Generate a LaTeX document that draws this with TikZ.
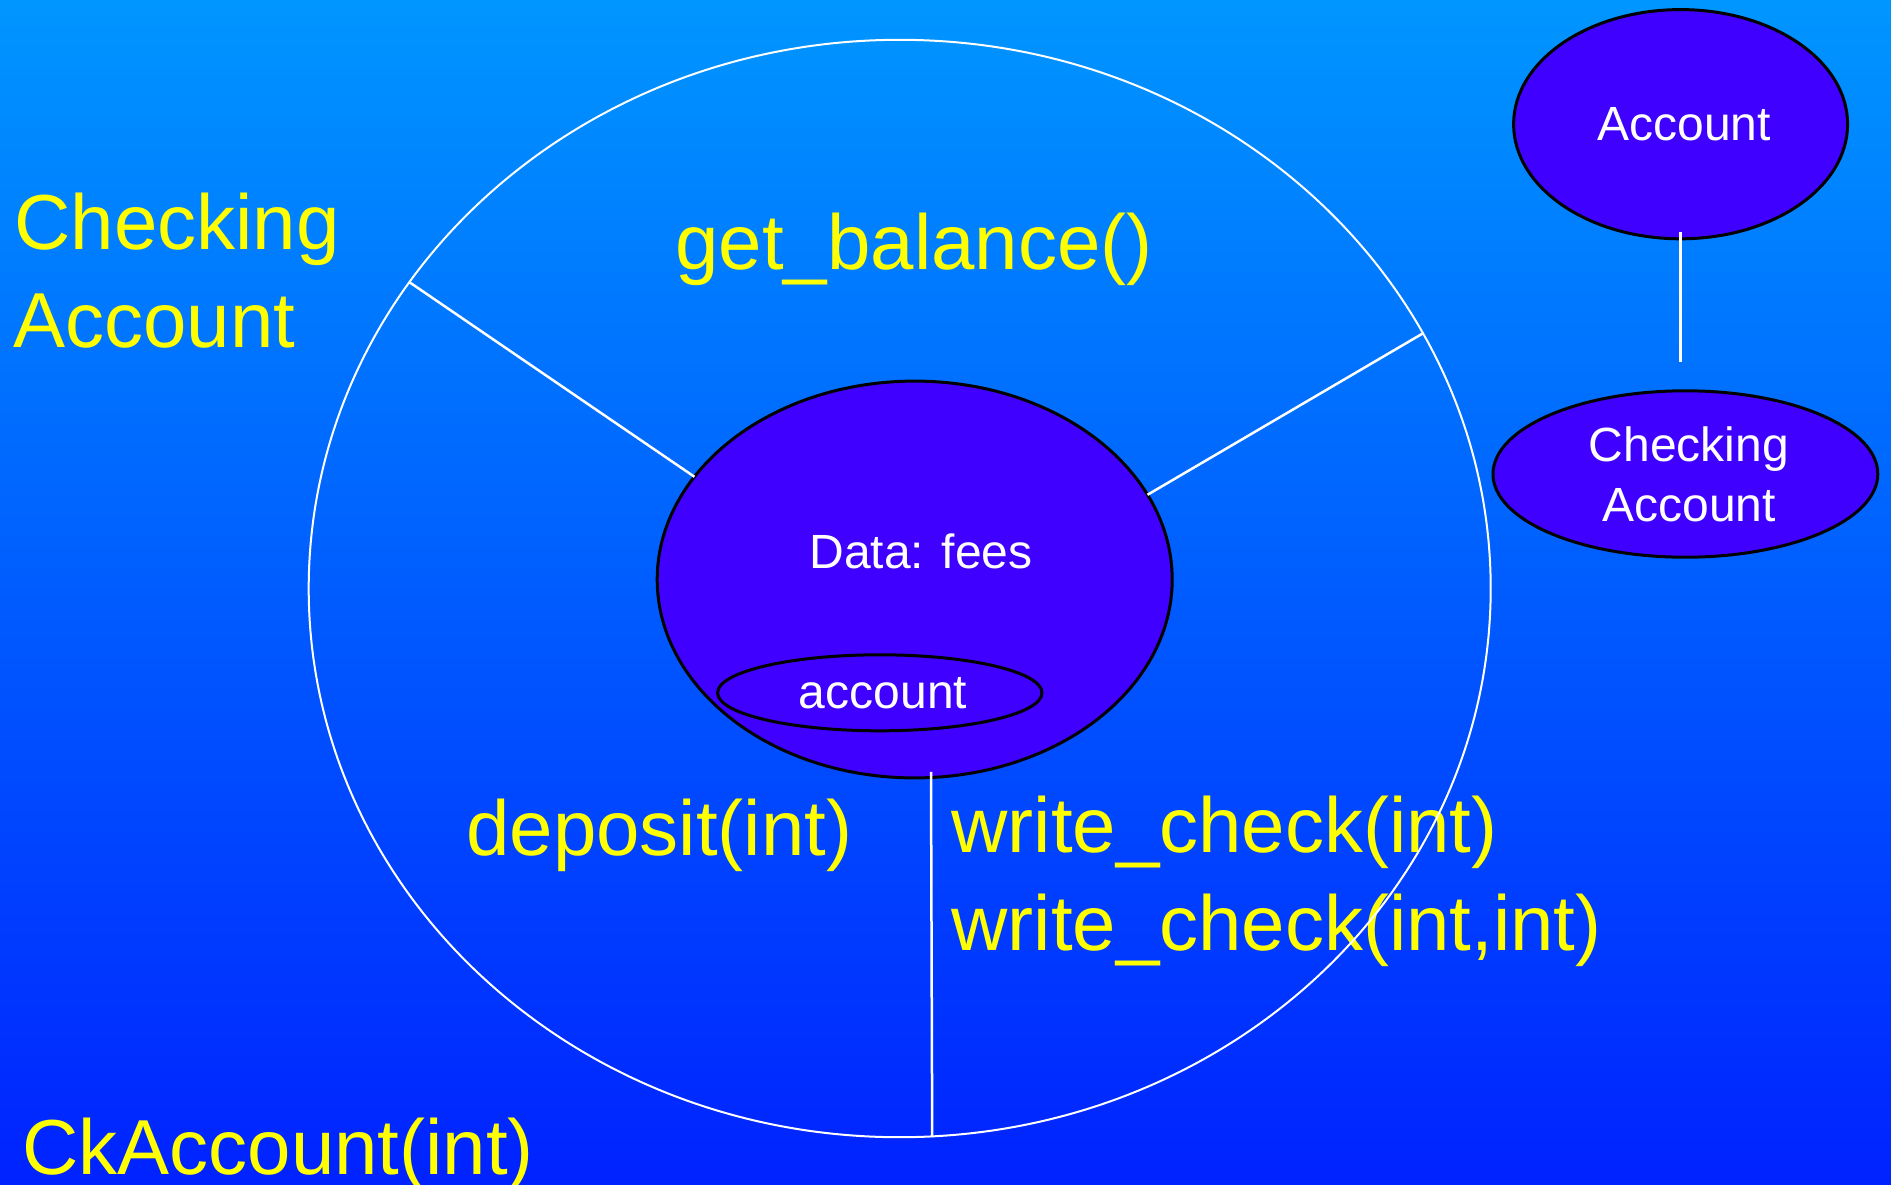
\documentclass[tikz,border=0pt]{standalone}
\usepackage{fontspec}
\setmainfont{Liberation Sans}
\usetikzlibrary{shapes.geometric}
\definecolor{bgtop}{RGB}{0,150,255}
\definecolor{bgbot}{RGB}{0,34,255}
\definecolor{purp}{RGB}{64,0,255}
\definecolor{ylw}{RGB}{255,255,0}
\begin{document}
\begin{tikzpicture}[x=0.5pt,y=-0.5pt,
  bigtxt/.style={text=ylw, font=\fontsize{39}{47}\selectfont, inner sep=0pt, anchor=base west},
  wtxt/.style={text=white, font=\fontsize{24}{30}\selectfont, align=center, inner sep=0pt},
  blob/.style={ellipse, draw=black, line width=1.5pt, fill=purp, inner sep=0pt, outer sep=0pt},
  wline/.style={draw=white, line width=1.25pt}]
\shade[top color=bgtop, bottom color=bgbot] (0,0) rectangle (1891,1184);
\useasboundingbox (0,0) rectangle (1891,1184);
% yellow labels
\node[bigtxt] (t1) at (14,249) {Checking};
\node[bigtxt] (t2) at (13,347) {Account};
\node[bigtxt, anchor=base] (gb) at (914,269) {get\_balance()};
\node[bigtxt] (dep) at (466,855) {deposit(int)};
\node[bigtxt] (wc1) at (951,852) {write\_check(int)};
\node[bigtxt] (wc2) at (951,950) {write\_check(int,int)};
\node[bigtxt] (ck) at (22,1174) {CkAccount(int)};
% big white ellipse
\node[ellipse, draw=white, line width=1pt, minimum width=591pt, minimum height=548.7pt, inner sep=0pt, outer sep=0pt] (big) at (899.7,588.5) {};
% class ellipse
\node[blob, minimum width=257.5pt, minimum height=198.4pt] (cls) at (914.7,579.5) {};
\node[wtxt] (data) at (921,551) {Data: fees};
\node[blob, minimum width=162.2pt, minimum height=38pt] (acc) at (879.8,692.8) {};
\node[wtxt] (acctxt) at (883,692.8) {account};
% spokes
\draw[wline] (big.148.1) -- (cls.155.7);
\draw[wline] (big.26.3) -- (cls.20.8);
\draw[wline] ([shift={(8.15pt,3pt)}]cls.south) -- ([xshift=16.25pt]big.south);
% hierarchy
\node[blob, minimum width=167pt, minimum height=114.6pt] (base) at (1680.6,124.2) {};
\node[wtxt] (basetxt) at (1684,124.2) {Account};
\node[blob, minimum width=192.4pt, minimum height=83.2pt] (der) at (1685.4,474) {};
\node[wtxt] (dertxt) at (1689,474) {Checking\\Account};
\coordinate (lt) at ([yshift=3.65pt]base.south);
\path (lt |- der.north) ++(0,-29) coordinate (lb);
\draw[wline] (lt) -- (lb);
\end{tikzpicture}
\end{document}
